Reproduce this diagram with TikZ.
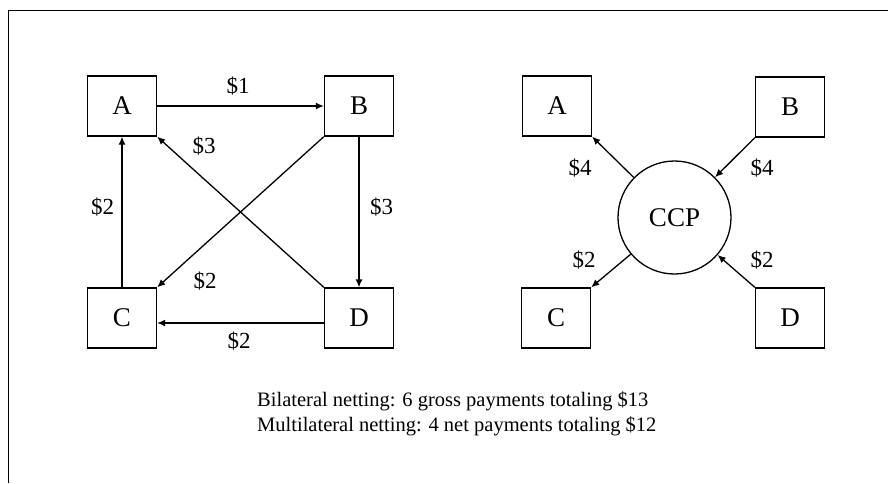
\documentclass[tikz,border=0pt]{standalone}
\usepackage{fontspec}
\setmainfont{Liberation Serif}
\usetikzlibrary{arrows.meta}

\begin{document}
\begin{tikzpicture}[x=1pt,y=-1pt,
  party/.style={draw,line width=1.3pt,minimum width=69pt,minimum height=60pt,inner sep=0pt,font=\fontsize{27}{27}\selectfont},
  ccpnode/.style={draw,circle,line width=1.3pt,minimum size=113pt,inner sep=0pt,font=\fontsize{27}{27}\selectfont},
  pay/.style={line width=1.3pt,-{Latex[length=8pt,width=7pt]}},
  amt/.style={inner sep=0pt,font=\fontsize{23}{23}\selectfont},
  note/.style={inner sep=0pt,anchor=base west,font=\fontsize{20.5}{20.5}\selectfont}]
\useasboundingbox (0,0) rectangle (888,483);
\draw [line width=1.5pt] (8.5,483) |- (888,10.5);

\node [party] (a) at (122,106) {A};
\node [party] (b) at (359,106) {B};
\node [party] (c) at (122,318) {C};
\node [party] (d) at (359,318) {D};
\draw [pay] (a) -- (b);
\draw [pay] (c) -- (a);
\draw [pay] (d.north west) -- (a.south east);
\draw [pay] (b.south west) -- (c.north east);
\draw [pay] (b) -- (d);
\draw [pay] ([yshift=-5pt]d.west) -- ([yshift=-5pt]c.east);
\node [amt] (ab) at (238,86) {\$1};
\node [amt] (ca) at (102.5,207.5) {\$2};
\node [amt] (da) at (204,146) {\$3};
\node [amt] (bc) at (205,281) {\$2};
\node [amt] (bd) at (381.5,207.5) {\$3};
\node [amt] (dc) at (239,341) {\$2};

\node [ccpnode] (ccp) at (674.5,217.5) {CCP};
\node [party] (a2) at (557,106) {A};
\node [party] (b2) at (790,107) {B};
\node [party] (c2) at (556,318) {C};
\node [party] (d2) at (790,318) {D};
\draw [pay] (ccp) -- (a2.south east);
\draw [pay] (b2.south west) -- (ccp);
\draw [pay] (ccp) -- (c2.north east);
\draw [pay] (d2.north west) -- (ccp);
\node [amt] (ccpa) at (580,168) {\$4};
\node [amt] (bccp) at (762,168) {\$4};
\node [amt] (ccpc) at (584,260) {\$2};
\node [amt] (dccp) at (762,260) {\$2};

\node [note] (bilat) at (257,406) {Bilateral netting: 6 gross payments totaling \$13};
\node [note] (multi) at (257,431) {Multilateral netting: 4 net payments totaling \$12};
\end{tikzpicture}
\end{document}
